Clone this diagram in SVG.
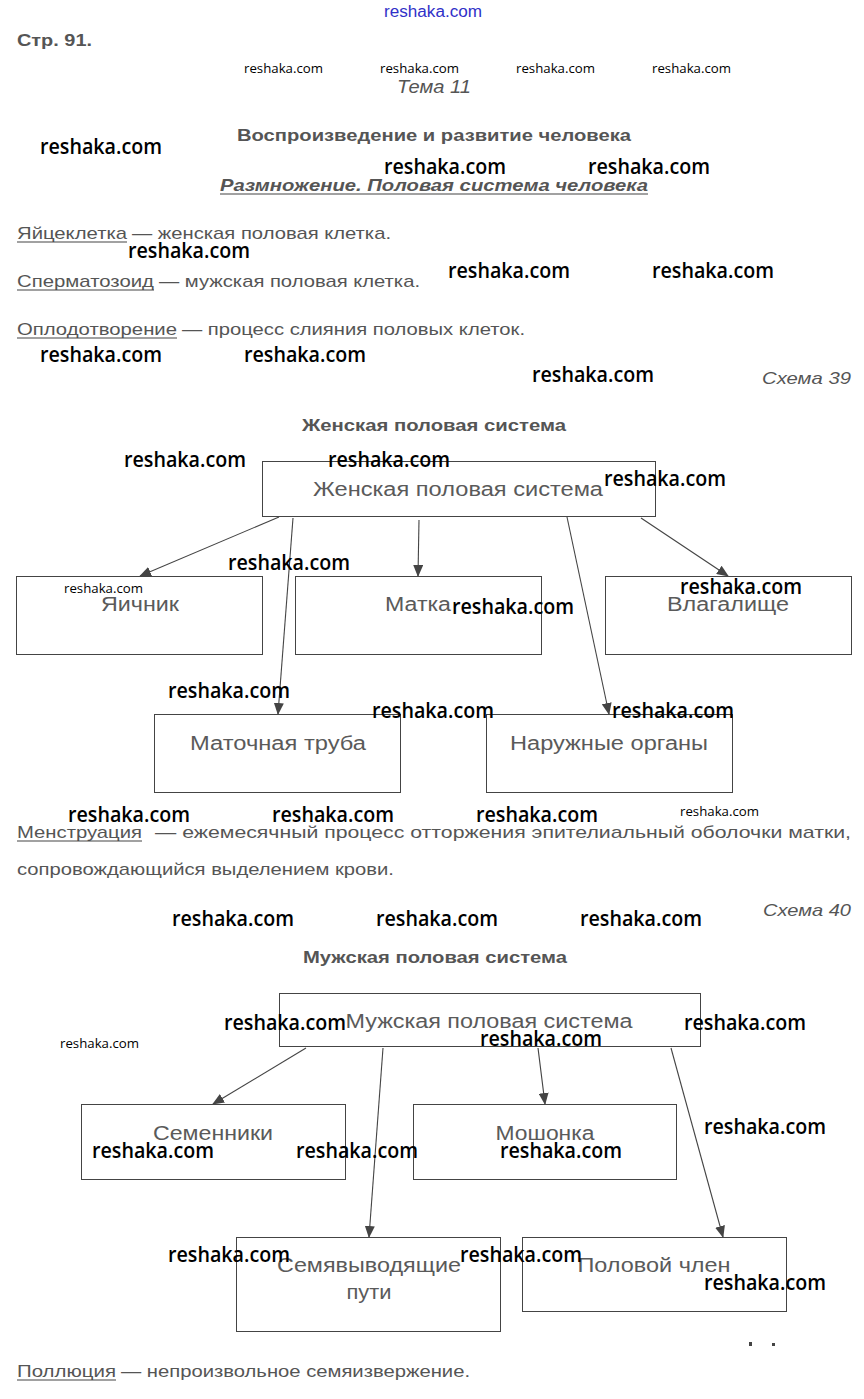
<svg xmlns="http://www.w3.org/2000/svg" width="864" height="1399" viewBox="0 0 864 1399">
<style>
text{font-family:"Liberation Sans",Arial,sans-serif;fill:#555}
.b{font-weight:bold}
.i{font-style:italic}
.t{font-size:17px}
.bx{font-size:20px;fill:#5a5a5a;text-anchor:middle}
.w{font-family:"Open Sans","Noto Sans",sans-serif;font-size:21px;fill:#000;font-weight:600}
.ws{font-family:"Open Sans","Noto Sans",sans-serif;font-size:13px;fill:#000}
.box{fill:#fff;stroke:#444;stroke-width:1}
.ul{stroke:#444;stroke-width:1.2}
.c line{stroke:#444;stroke-width:1.1;marker-end:url(#ah)}
</style>
<defs>
<marker id="ah" markerWidth="12" markerHeight="10" refX="11" refY="5" orient="auto" markerUnits="userSpaceOnUse">
<path d="M0,0 L12,5 L0,10 z" fill="#444"/>
</marker>
</defs>
<rect width="864" height="1399" fill="#fff"/>

<!-- header -->
<text x="384" y="17" style="font-family:'Liberation Sans Narrow','Liberation Sans',sans-serif;font-size:16px;fill:#3030c8" textLength="98" lengthAdjust="spacingAndGlyphs">reshaka.com</text>
<text x="17" y="46" class="b" style="font-size:17px" textLength="75" lengthAdjust="spacingAndGlyphs">Стр. 91.</text>
<text x="244" y="73" class="ws" textLength="79" lengthAdjust="spacingAndGlyphs">reshaka.com</text>
<text x="380" y="73" class="ws" textLength="79" lengthAdjust="spacingAndGlyphs">reshaka.com</text>
<text x="516" y="73" class="ws" textLength="79" lengthAdjust="spacingAndGlyphs">reshaka.com</text>
<text x="652" y="73" class="ws" textLength="79" lengthAdjust="spacingAndGlyphs">reshaka.com</text>
<text x="397" y="93" class="i" style="font-size:18px" textLength="74" lengthAdjust="spacingAndGlyphs">Тема 11</text>
<text x="237" y="141" class="b t" textLength="394" lengthAdjust="spacingAndGlyphs">Воспроизведение и развитие человека</text>
<text x="220" y="191" class="b i t" textLength="428" lengthAdjust="spacingAndGlyphs">Размножение. Половая система человека</text>
<line class="ul" x1="220" y1="194" x2="648" y2="194"/>

<!-- definitions -->
<text x="17" y="239" class="t" textLength="110" lengthAdjust="spacingAndGlyphs">Яйцеклетка</text>
<line class="ul" x1="17" y1="242" x2="127" y2="242"/>
<text x="132" y="239" class="t" textLength="259" lengthAdjust="spacingAndGlyphs">— женская половая клетка.</text>
<text x="17" y="287" class="t" textLength="137" lengthAdjust="spacingAndGlyphs">Сперматозоид</text>
<line class="ul" x1="17" y1="290" x2="154" y2="290"/>
<text x="159" y="287" class="t" textLength="261" lengthAdjust="spacingAndGlyphs">— мужская половая клетка.</text>
<text x="17" y="335" class="t" textLength="160" lengthAdjust="spacingAndGlyphs">Оплодотворение</text>
<line class="ul" x1="17" y1="338" x2="177" y2="338"/>
<text x="182" y="335" class="t" textLength="343" lengthAdjust="spacingAndGlyphs">— процесс слияния половых клеток.</text>
<text x="762" y="384" class="i t" textLength="89" lengthAdjust="spacingAndGlyphs">Схема 39</text>
<text x="302" y="431" class="b t" textLength="264" lengthAdjust="spacingAndGlyphs">Женская половая система</text>

<!-- female scheme connectors -->
<g id="connectors-female" class="c">
<line x1="279" y1="517" x2="140" y2="576"/>
<line x1="419" y1="520" x2="418" y2="576"/>
<line x1="293" y1="518" x2="278" y2="714"/>
<line x1="567" y1="517" x2="609" y2="714"/>
<line x1="641" y1="518" x2="728" y2="576"/>
</g>
<g id="f-root"><rect class="box" x="262.5" y="461.5" width="393" height="55"/><text x="458" y="496" class="bx" textLength="290" lengthAdjust="spacingAndGlyphs">Женская половая система</text></g>
<g id="f-ovary"><rect class="box" x="16.5" y="576.5" width="246" height="78"/><text x="140" y="611" class="bx" textLength="78" lengthAdjust="spacingAndGlyphs">Яичник</text></g>
<g id="f-uterus"><rect class="box" x="295.5" y="576.5" width="246" height="78"/><text x="418" y="611" class="bx" textLength="66" lengthAdjust="spacingAndGlyphs">Матка</text></g>
<g id="f-vagina"><rect class="box" x="605.5" y="576.5" width="246" height="78"/><text x="728" y="611" class="bx" textLength="122" lengthAdjust="spacingAndGlyphs">Влагалище</text></g>
<g id="f-tube"><rect class="box" x="154.5" y="714.5" width="246" height="78"/><text x="278" y="750" class="bx" textLength="176" lengthAdjust="spacingAndGlyphs">Маточная труба</text></g>
<g id="f-external"><rect class="box" x="486.5" y="714.5" width="246" height="78"/><text x="609" y="750" class="bx" textLength="198" lengthAdjust="spacingAndGlyphs">Наружные органы</text></g>

<!-- menstruation -->
<text x="17" y="838" class="t" textLength="125" lengthAdjust="spacingAndGlyphs">Менструация</text>
<line class="ul" x1="17" y1="841" x2="142" y2="841"/>
<text x="155" y="838" class="t" textLength="696" lengthAdjust="spacingAndGlyphs">—  ежемесячный  процесс  отторжения  эпителиальный  оболочки  матки,</text>
<text x="17" y="875" class="t" textLength="377" lengthAdjust="spacingAndGlyphs">сопровождающийся выделением крови.</text>
<text x="763" y="916" class="i t" textLength="88" lengthAdjust="spacingAndGlyphs">Схема 40</text>
<text x="303" y="963" class="b t" textLength="264" lengthAdjust="spacingAndGlyphs">Мужская половая система</text>

<!-- male scheme connectors -->
<g id="connectors-male" class="c">
<line x1="306" y1="1048" x2="213" y2="1104"/>
<line x1="383" y1="1048" x2="369" y2="1237"/>
<line x1="538" y1="1048" x2="545" y2="1104"/>
<line x1="671" y1="1048" x2="723" y2="1237"/>
</g>
<g id="m-root"><rect class="box" x="279.5" y="993.5" width="421" height="53"/><text x="489" y="1028" class="bx" textLength="287" lengthAdjust="spacingAndGlyphs">Мужская половая система</text></g>
<g id="m-testes"><rect class="box" x="81.5" y="1104.5" width="264" height="75"/><text x="213" y="1140" class="bx" textLength="120" lengthAdjust="spacingAndGlyphs">Семенники</text></g>
<g id="m-scrotum"><rect class="box" x="413.5" y="1104.5" width="263" height="75"/><text x="545" y="1140" class="bx" textLength="99" lengthAdjust="spacingAndGlyphs">Мошонка</text></g>
<g id="m-ducts"><rect class="box" x="236.5" y="1237.5" width="264" height="94"/><text x="369" y="1272" class="bx" textLength="184" lengthAdjust="spacingAndGlyphs">Семявыводящие</text><text x="369" y="1299" class="bx" textLength="45" lengthAdjust="spacingAndGlyphs">пути</text></g>
<g id="m-penis"><rect class="box" x="522.5" y="1237.5" width="264" height="74"/><text x="654" y="1272" class="bx" textLength="153" lengthAdjust="spacingAndGlyphs">Половой член</text></g>

<rect x="749" y="1342" width="3" height="4" fill="#444"/>
<rect x="772" y="1343" width="3" height="3" fill="#444"/>

<text x="17" y="1377" class="t" textLength="99" lengthAdjust="spacingAndGlyphs">Поллюция</text>
<line class="ul" x1="17" y1="1380" x2="116" y2="1380"/>
<text x="121" y="1377" class="t" textLength="349" lengthAdjust="spacingAndGlyphs">— непроизвольное семяизвержение.</text>

<!-- watermarks -->
<g id="watermarks">
<text class="w" x="40" y="154" textLength="122" lengthAdjust="spacingAndGlyphs">reshaka.com</text>
<text class="w" x="384" y="174" textLength="122" lengthAdjust="spacingAndGlyphs">reshaka.com</text>
<text class="w" x="588" y="174" textLength="122" lengthAdjust="spacingAndGlyphs">reshaka.com</text>
<text class="w" x="128" y="258" textLength="122" lengthAdjust="spacingAndGlyphs">reshaka.com</text>
<text class="w" x="448" y="278" textLength="122" lengthAdjust="spacingAndGlyphs">reshaka.com</text>
<text class="w" x="652" y="278" textLength="122" lengthAdjust="spacingAndGlyphs">reshaka.com</text>
<text class="w" x="40" y="362" textLength="122" lengthAdjust="spacingAndGlyphs">reshaka.com</text>
<text class="w" x="244" y="362" textLength="122" lengthAdjust="spacingAndGlyphs">reshaka.com</text>
<text class="w" x="532" y="382" textLength="122" lengthAdjust="spacingAndGlyphs">reshaka.com</text>
<text class="w" x="124" y="467" textLength="122" lengthAdjust="spacingAndGlyphs">reshaka.com</text>
<text class="w" x="328" y="467" textLength="122" lengthAdjust="spacingAndGlyphs">reshaka.com</text>
<text class="w" x="604" y="486" textLength="122" lengthAdjust="spacingAndGlyphs">reshaka.com</text>
<text class="w" x="228" y="570" textLength="122" lengthAdjust="spacingAndGlyphs">reshaka.com</text>
<text class="ws" x="64" y="593" textLength="79" lengthAdjust="spacingAndGlyphs">reshaka.com</text>
<text class="w" x="680" y="594" textLength="122" lengthAdjust="spacingAndGlyphs">reshaka.com</text>
<text class="w" x="452" y="614" textLength="122" lengthAdjust="spacingAndGlyphs">reshaka.com</text>
<text class="w" x="168" y="698" textLength="122" lengthAdjust="spacingAndGlyphs">reshaka.com</text>
<text class="w" x="372" y="718" textLength="122" lengthAdjust="spacingAndGlyphs">reshaka.com</text>
<text class="w" x="612" y="718" textLength="122" lengthAdjust="spacingAndGlyphs">reshaka.com</text>
<text class="w" x="68" y="822" textLength="122" lengthAdjust="spacingAndGlyphs">reshaka.com</text>
<text class="w" x="272" y="822" textLength="122" lengthAdjust="spacingAndGlyphs">reshaka.com</text>
<text class="w" x="476" y="822" textLength="122" lengthAdjust="spacingAndGlyphs">reshaka.com</text>
<text class="ws" x="680" y="816" textLength="79" lengthAdjust="spacingAndGlyphs">reshaka.com</text>
<text class="w" x="172" y="926" textLength="122" lengthAdjust="spacingAndGlyphs">reshaka.com</text>
<text class="w" x="376" y="926" textLength="122" lengthAdjust="spacingAndGlyphs">reshaka.com</text>
<text class="w" x="580" y="926" textLength="122" lengthAdjust="spacingAndGlyphs">reshaka.com</text>
<text class="w" x="224" y="1030" textLength="122" lengthAdjust="spacingAndGlyphs">reshaka.com</text>
<text class="w" x="684" y="1030" textLength="122" lengthAdjust="spacingAndGlyphs">reshaka.com</text>
<text class="w" x="480" y="1046" textLength="122" lengthAdjust="spacingAndGlyphs">reshaka.com</text>
<text class="ws" x="60" y="1048" textLength="79" lengthAdjust="spacingAndGlyphs">reshaka.com</text>
<text class="w" x="704" y="1134" textLength="122" lengthAdjust="spacingAndGlyphs">reshaka.com</text>
<text class="w" x="92" y="1158" textLength="122" lengthAdjust="spacingAndGlyphs">reshaka.com</text>
<text class="w" x="296" y="1158" textLength="122" lengthAdjust="spacingAndGlyphs">reshaka.com</text>
<text class="w" x="500" y="1158" textLength="122" lengthAdjust="spacingAndGlyphs">reshaka.com</text>
<text class="w" x="168" y="1262" textLength="122" lengthAdjust="spacingAndGlyphs">reshaka.com</text>
<text class="w" x="460" y="1262" textLength="122" lengthAdjust="spacingAndGlyphs">reshaka.com</text>
<text class="w" x="704" y="1290" textLength="122" lengthAdjust="spacingAndGlyphs">reshaka.com</text>
</g>
</svg>
